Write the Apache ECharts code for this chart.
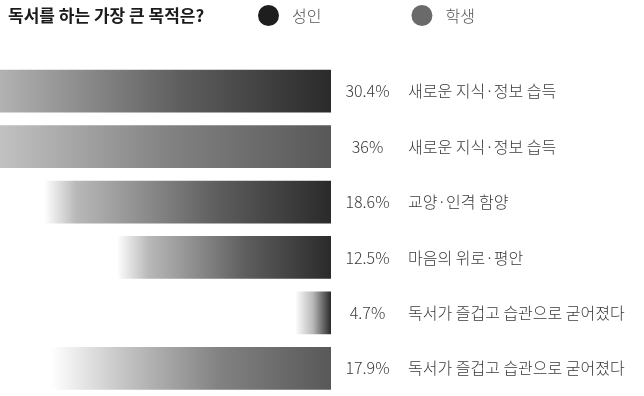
<!DOCTYPE html>
<html><head><meta charset="utf-8">
<script src="https://cdn.jsdelivr.net/npm/echarts@6/dist/echarts.min.js"></script>
<style>html,body{margin:0;padding:0;background:#fff}#c{width:644px;height:396px}</style>
</head><body><div id="c"></div>
<script>
const titleText = '독서를 하는 가장 큰 목적은?';
const groups = ['성인', '학생'];
const categories = ['새로운 지식·정보 습득', '새로운 지식·정보 습득', '교양·인격 함양', '마음의 위로·평안', '독서가 즐겁고 습관으로 굳어졌다', '독서가 즐겁고 습관으로 굳어졌다'];
const values = [30.4, 36, 18.6, 12.5, 4.7, 17.9];
const valueLabels = ['30.4%', '36%', '18.6%', '12.5%', '4.7%', '17.9%'];
const rowGroup = ['성인', '학생', '성인', '성인', '성인', '학생'];

const FONT = '"Noto Sans CJK KR", "Noto Sans", sans-serif';
const AXIS_MIN = 3.86, AXIS_MAX = 23.7;
const palette = {
  '성인': { dark: '#2a2a2a', mid: '#5e5e5e', light: '#b8b8b8', legend: '#1e1e1e', fadePx: 32 },
  '학생': { dark: '#585858', mid: '#828282', light: '#c2c2c2', legend: '#6a6a6a', fadePx: 75 }
};

function makeRender(g) {
  const p = palette[g];
  return function (params, api) {
    const v = api.value(0), row = api.value(1);
    const s = api.coord([v, row]);
    const e = api.coord([AXIS_MIN, row]);
    const h = api.size([0, 1])[1] * 0.77;
    const w = e[0] - s[0];
    const fade = Math.min(0.5, p.fadePx / w);
    const stops = [{ offset: 0, color: '#ffffff' }, { offset: fade, color: p.light }];
    if (fade < 0.45) stops.push({ offset: 0.6, color: p.mid });
    stops.push({ offset: 1, color: p.dark });
    return {
      type: 'rect',
      shape: { x: s[0], y: s[1] - h / 2, width: w, height: h },
      style: { fill: new echarts.graphic.LinearGradient(0, 0, 1, 0, stops) }
    };
  };
}

const series = groups.map(g => ({
  name: g,
  type: 'custom',
  renderItem: makeRender(g),
  clip: false,
  itemStyle: { color: palette[g].legend },
  encode: { x: 0, y: 1 },
  data: values.map((v, i) => [v, i]).filter((d, i) => rowGroup[i] === g)
}));

const chart = echarts.init(document.getElementById('c'), null, { renderer: 'canvas' });
chart.setOption({
  animation: false,
  backgroundColor: '#fff',
  title: {
    text: titleText, left: 3, top: 2,
    textStyle: { fontSize: 17, fontWeight: 'bold', color: '#1b1b1b', fontFamily: FONT }
  },
  legend: {
    data: groups, left: 253, top: 0, icon: 'circle',
    itemWidth: 21, itemHeight: 21, itemGap: 90,
    textStyle: { fontSize: 16, color: '#555', fontFamily: FONT, fontWeight: 300, padding: [0, 0, 0, 8] }
  },
  grid: { left: 0, right: 313, top: 63.5, bottom: -6.5, containLabel: false },
  xAxis: { type: 'log', logBase: 10, min: AXIS_MIN, max: AXIS_MAX, inverse: true, show: false },
  yAxis: {
    type: 'category', data: categories, inverse: true, position: 'right',
    axisLine: { show: false }, axisTick: { show: false }, splitLine: { show: false },
    axisLabel: {
      interval: 0, margin: 12,
      formatter: (val, idx) => '{v|' + valueLabels[idx] + '}{c|' + val + '}',
      rich: {
        v: { width: 49, align: 'right', fontSize: 16, color: '#3a3a3a', fontFamily: FONT, fontWeight: 300 },
        c: { padding: [0, 0, 0, 16], fontSize: 16, color: '#3a3a3a', fontFamily: FONT, fontWeight: 300 }
      }
    }
  },
  series: series
});
</script></body></html>
